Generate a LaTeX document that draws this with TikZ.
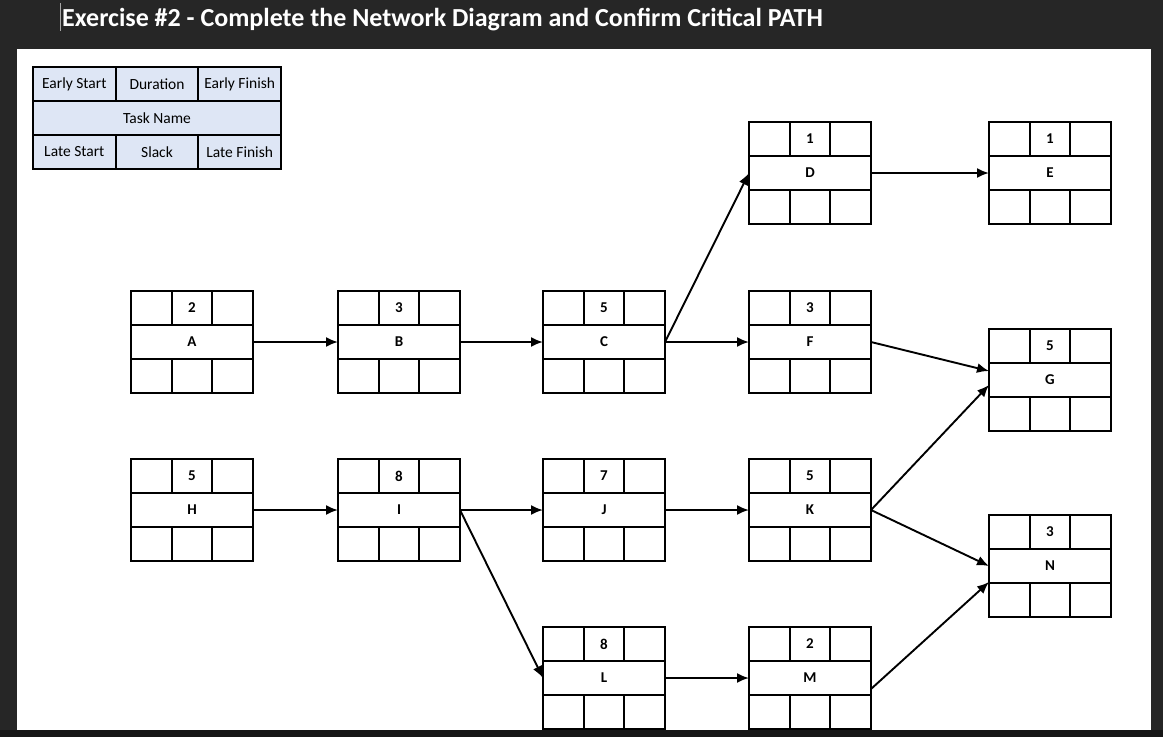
\documentclass[tikz,border=0pt]{standalone}
\usepackage{fontspec}
\setmainfont{Carlito}
\usetikzlibrary{arrows.meta,positioning}
\definecolor{screen}{RGB}{38,38,38}
\definecolor{taskbar}{RGB}{22,22,22}
\definecolor{keyblue}{RGB}{222,230,245}

\begin{document}
\begin{tikzpicture}[x=1pt, y=-1pt,
  every node/.style={font=\fontsize{15}{17}\selectfont\bfseries},
  cell/.style={draw, line width=2.2pt, outer sep=0pt, inner sep=0pt, minimum width=40.67pt, minimum height=34pt},
  mid/.style={cell, minimum width=122pt},
  keycell/.style={cell, fill=keyblue, minimum width=82.67pt, font=\fontsize{15.5}{17}\selectfont},
  keymid/.style={keycell, minimum width=248pt},
  link/.style={-{Latex[length=12pt,width=10pt]}, line width=1.9pt}
]
\useasboundingbox (0,0) rectangle (1163,737);
\fill[screen] (0,0) rectangle (1163,737);
\fill[taskbar] (0,730) rectangle (1163,737);
\fill[white] (17,49) rectangle (1151,730);
\draw[gray!70, line width=0.8pt] (60,3) -- (60,31);
\node[anchor=base west, text=white, inner sep=0pt, font=\fontsize{26}{30}\selectfont\bfseries] (title) at (62,26)
  {Exercise \#2 - Complete the Network Diagram and Confirm Critical PATH};

% legend
\node[keymid] (key) at (157,118) {Task Name};
\node[keycell, anchor=south west] (keyES) at (key.north west) {Early Start};
\node[keycell, right=0pt of keyES] (keyDU) {Duration};
\node[keycell, right=0pt of keyDU] (keyEF) {Early Finish};
\node[keycell, anchor=north west] (keyLS) at (key.south west) {Late Start};
\node[keycell, right=0pt of keyLS] (keySL) {Slack};
\node[keycell, right=0pt of keySL] (keyLF) {Late Finish};

% tasks
\foreach \n/\x/\y/\d in {A/192/342/2, B/399/342/3, C/604/342/5, D/810/173/1, E/1050/173/1,
  F/810/342/3, G/1050/380/5, H/192/510/5, I/399/510/8, J/604/510/7, K/810/510/5,
  L/604/678/8, M/810/678/2, N/1050/566/3}{
  \node[mid] (\n) at (\x,\y) {\n};
  \node[cell, anchor=south west] (\n-es) at (\n.north west) {};
  \node[cell, right=0pt of \n-es] (\n-du) {\d};
  \node[cell, right=0pt of \n-du] (\n-ef) {};
  \node[cell, anchor=north west] (\n-ls) at (\n.south west) {};
  \node[cell, right=0pt of \n-ls] (\n-sl) {};
  \node[cell, right=0pt of \n-sl] (\n-lf) {};
}

\foreach \a/\b in {A/B, B/C, C/D, C/F, D/E, H/I, I/J, I/L, J/K, L/M, K/N}
  \draw[link] (\a.east) -- (\b.west);
\draw[link] (F.east) -- ([yshift=9pt]G.west);
\draw[link] (K.east) -- ([yshift=-5pt]G.west);
\draw[link] ([yshift=-11pt]M.east) -- ([yshift=-16pt]N.west);
\end{tikzpicture}
\end{document}
